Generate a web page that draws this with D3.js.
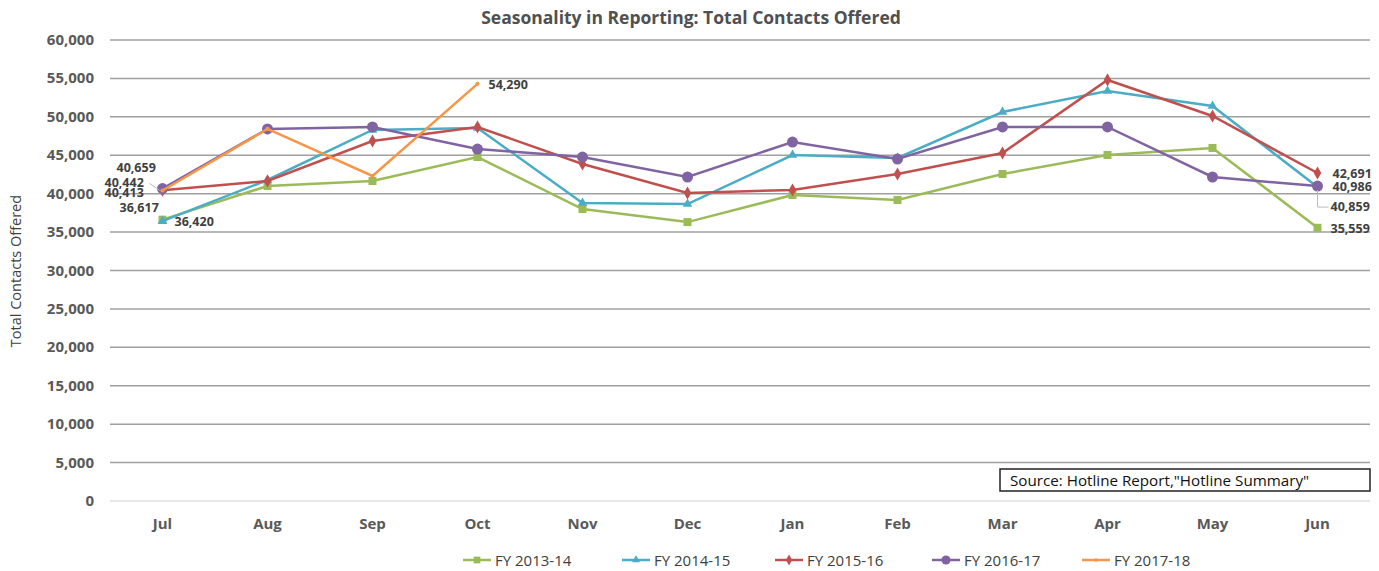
<!DOCTYPE html>
<meta charset="utf-8">
<style>
body { margin: 0; background: #fff; }
svg { font-family: "Open Sans", "Noto Sans", sans-serif; }
.grid line { stroke: #a0a0a0; stroke-width: 1.5; }
.tick-lbl { fill: #595959; font-weight: bold; font-size: 15px; }
.dlbl { fill: #404040; font-weight: bold; font-size: 12.5px; }
</style>
<svg width="1379" height="571"></svg>
<script src="https://d3js.org/d3.v7.min.js"></script>
<script>
// data
var months = ["Jul","Aug","Sep","Oct","Nov","Dec","Jan","Feb","Mar","Apr","May","Jun"];
var fy1314 = [36617, 41000, 41650, 44770, 38000, 36300, 39830, 39180, 42560, 45030, 45950, 35559];
var fy1415 = [36420, 41780, 48290, 48550, 38790, 38650, 45030, 44640, 50630, 53360, 51410, 40859];
var fy1516 = [40442, 41650, 46850, 48680, 43860, 40090, 40480, 42560, 45290, 54800, 50110, 42691];
var fy1617 = [40659, 48420, 48680, 45810, 44770, 42170, 46720, 44510, 48680, 48680, 42170, 40986];
var fy1718 = [40413, 48420, 42300, 54290];
var yTicks = [0, 5000, 10000, 15000, 20000, 25000, 30000, 35000, 40000, 45000, 50000, 55000, 60000];

var series = [
    {name: "FY 2013-14", vals: fy1314, color: "#9bbb59", sym: d3.symbolSquare, size: 64},
    {name: "FY 2014-15", vals: fy1415, color: "#4bacc6", sym: d3.symbolTriangle, size: 40},
    {name: "FY 2015-16", vals: fy1516, color: "#c0504d", sym: d3.symbolDiamond, size: 50},
    {name: "FY 2016-17", vals: fy1617, color: "#8064a2", sym: d3.symbolCircle, size: 95},
    {name: "FY 2017-18", vals: fy1718, color: "#f79646", sym: d3.symbolCircle, size: 14}
];

// labels shown at the ends: [series index, month index, dx, dy, leader]
var labels = [
    [3, 0, -46, -17, false],
    [2, 0, -58, -3, true],
    [4, 0, -58, 7, false],
    [0, 0, -43, -8, false],
    [1, 0, 12, 5, false],
    [4, 3, 11, 5, false],
    [2, 11, 15, 5, false],
    [3, 11, 15, 5, false],
    [1, 11, 13, 24, true],
    [0, 11, 13, 5, false]
];

var svg = d3.select("svg"),
    margin = {top: 40, right: 9, bottom: 70, left: 110},
    width = +svg.attr("width") - margin.left - margin.right,
    height = +svg.attr("height") - margin.top - margin.bottom;

var x = d3.scaleBand().domain(months).range([0, width]);
var y = d3.scaleLinear().domain([0, 60000]).range([height, 0]);
var g = svg.append("g").attr("transform", "translate(" + margin.left + "," + margin.top + ")");
var fmt = d3.format(",");

// title
svg.append("text").attr("x", 691).attr("y", 24).attr("text-anchor", "middle")
    .style("font-weight", "bold").style("font-size", "17.5px").style("fill", "#505050")
    .text("Seasonality in Reporting: Total Contacts Offered");

// gridlines
g.append("g").attr("class", "grid").selectAll("line")
    .data(yTicks).enter().append("line")
    .attr("x1", 0).attr("x2", width)
    .attr("y1", function(d) { return y(d); }).attr("y2", function(d) { return y(d); })
    .style("stroke", function(d) { return d === 0 ? "#e0e0e0" : null; });

// y axis labels
g.selectAll(".ylbl").data(yTicks).enter().append("text")
    .attr("class", "tick-lbl").attr("x", -16).attr("y", function(d) { return y(d) + 5; })
    .attr("text-anchor", "end").text(function(d) { return fmt(d); });

// x axis labels
g.selectAll(".xlbl").data(months).enter().append("text")
    .attr("class", "tick-lbl").attr("x", function(d) { return x(d) + x.bandwidth() / 2; })
    .attr("y", height + 28).attr("text-anchor", "middle").text(function(d) { return d; });

svg.append("text").attr("transform", "translate(21,271) rotate(-90)")
    .attr("text-anchor", "middle").style("font-size", "14.5px").style("fill", "#404040")
    .text("Total Contacts Offered");

// lines + markers
var line = d3.line()
    .x(function(d, i) { return x(months[i]) + x.bandwidth() / 2; })
    .y(function(d) { return y(d); });

series.forEach(function(s) {
    g.append("path").attr("d", line(s.vals)).attr("fill", "none")
        .attr("stroke", s.color).attr("stroke-width", 2.5);
    g.selectAll(null).data(s.vals).enter().append("path")
        .attr("d", d3.symbol().type(s.sym).size(s.size))
        .attr("fill", s.color)
        .attr("transform", function(d, i) {
            return "translate(" + (x(months[i]) + x.bandwidth() / 2) + "," + y(d) + ")";
        });
});

// data labels
labels.forEach(function(l) {
    var v = series[l[0]].vals[l[1]];
    var px = x(months[l[1]]) + x.bandwidth() / 2, py = y(v);
    if (l[4]) {
        var lx = l[2] > 0 ? px + l[2] - 2 : px + l[2] + 45;
        g.append("path").attr("fill", "none").attr("stroke", "#bbb").attr("stroke-width", 1)
            .attr("d", l[2] > 0
                ? "M" + px + "," + (py + 3) + "V" + (py + l[3] - 4) + "H" + lx
                : "M" + (px - 3) + "," + py + "L" + lx + "," + (py + l[3] - 4));
    }
    g.append("text").attr("class", "dlbl").attr("x", px + l[2]).attr("y", py + l[3]).text(fmt(v));
});

// source box
svg.append("rect").attr("x", 1000).attr("y", 469).attr("width", 370).attr("height", 22)
    .attr("fill", "#fff").attr("stroke", "#222").attr("stroke-width", 1.5);
svg.append("text").attr("x", 1010).attr("y", 486).style("font-size", "15.2px").style("fill", "#111")
    .text("Source: Hotline Report,\"Hotline Summary\"");

// legend
var lx0 = [463, 622, 775, 932, 1082];
var leg = svg.selectAll(".leg").data(series).enter().append("g")
    .attr("transform", function(d, i) { return "translate(" + lx0[i] + ",560)"; });
leg.append("line").attr("x1", 0).attr("x2", 28).attr("stroke", function(d) { return d.color; }).attr("stroke-width", 2.5);
leg.append("path").attr("d", function(d) { return d3.symbol().type(d.sym).size(d.size * 0.7)(); })
    .attr("transform", "translate(14,0)").attr("fill", function(d) { return d.color; });
leg.append("text").attr("x", 32).attr("y", 5.5).style("font-size", "15px").style("fill", "#404040")
    .text(function(d) { return d.name; });
</script>
